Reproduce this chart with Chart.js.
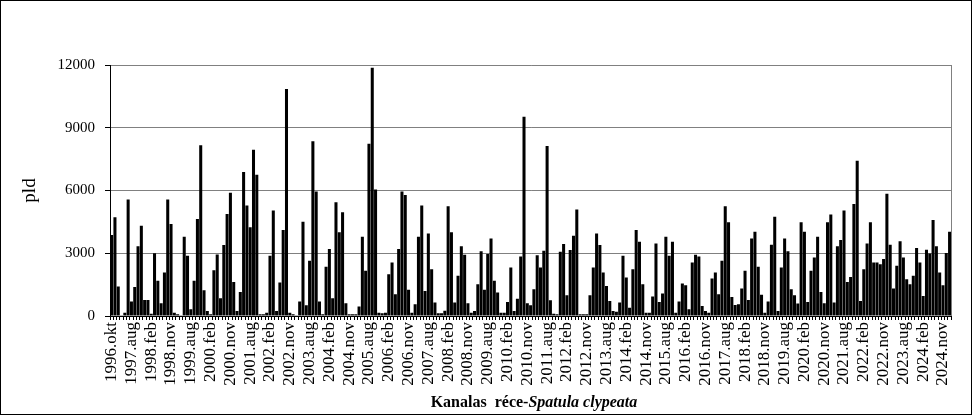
<!DOCTYPE html>
<html>
<head>
<meta charset="utf-8">
<script src="https://cdn.jsdelivr.net/npm/chart.js@4.4.1/dist/chart.umd.min.js"></script>
<style>
    body { margin: 0; background: #fff; }
    .chart-box { position: relative; width: 972px; height: 415px; }
    .chart-title {
        position: absolute; left: 110px; width: 848px; top: 393px;
        text-align: center; line-height: 18px;
        font: bold 16px "Liberation Serif", "Times New Roman", serif;
    }
</style>
</head>
<body>
<div class="chart-box">
    <canvas id="myChart" width="972" height="415"></canvas>
    <div class="chart-title">Kanalas&nbsp; réce-<i>Spatula clypeata</i></div>
</div>

<script>
    // havi számlálások: az első idény okt-márc, utána aug-ápr
    const firstMonths = ['1996.okt', '1996.nov', '1996.dec', '1997.jan', '1997.feb', '1997.mar'];
    const seasonMonths = ['aug', 'sep', 'okt', 'nov', 'dec', 'jan', 'feb', 'mar', 'apr'];
    const firstYear = 1997;
    const lastMonth = '2025.jan';

    // tengelyfeliratok (minden 6. kategória)
    const tickLabels = [
        '1996.okt', '1997.aug', '1998.feb', '1998.nov', '1999.aug', '2000.feb', '2000.nov',
        '2001.aug', '2002.feb', '2002.nov', '2003.aug', '2004.feb', '2004.nov', '2005.aug',
        '2006.feb', '2006.nov', '2007.aug', '2008.feb', '2008.nov', '2009.aug', '2010.feb',
        '2010.nov', '2011.aug', '2012.feb', '2012.nov', '2013.aug', '2014.feb', '2014.nov',
        '2015.aug', '2016.feb', '2016.nov', '2017.aug', '2018.feb', '2018.nov', '2019.aug',
        '2020.feb', '2020.nov', '2021.aug', '2022.feb', '2022.nov', '2023.aug', '2024.feb',
        '2024.nov'
    ];

    // egyedszám (pld)
    const pld = [
        3870, 4720, 1410, 30, 160, 5570,
        690, 1390, 3330, 4320, 770, 770, 110, 3000, 1680,
        610, 2080, 5570, 4400, 160, 80, 30, 3790, 2880,
        320, 1680, 4640, 8160, 1230, 240, 80, 2190, 2940,
        850, 3390, 4880, 5890, 1630, 240, 1150, 6880, 5280,
        4240, 7950, 6750, 80, 80, 150, 2880, 5040,
        240, 1600, 4110, 10850, 160, 80, 30, 690, 4510,
        510, 2640, 8350, 5950, 690, 80, 2350, 3200, 850,
        5440, 4000, 4960, 610, 80, 80, 80, 450, 3790,
        2160, 8240, 11870, 6050, 160, 130, 160, 2000, 2560,
        1040, 3200, 5950, 5790, 1250, 160, 560, 3790, 5280,
        1200, 3950, 2240, 640, 130, 130, 250, 5250, 4000,
        640, 1920, 3330, 2930, 610, 160, 240, 1520, 3090,
        1250, 2960, 3710, 1680, 1120, 160, 160, 670, 2320,
        240, 830, 2850, 9520, 610, 510, 1280, 2910,
        2320, 3120, 8130, 750, 110, 80, 3070, 3440, 990,
        3150, 3840, 5090, 80, 80, 80, 990, 2320, 3950,
        3390, 2080, 1440, 720, 240, 200, 640, 2880, 1840,
        400, 2240, 4110, 3550, 1520, 160, 160, 930, 3470,
        670, 1070, 3790, 2880, 3550, 160, 690, 1550, 1470,
        320, 2560, 2930, 2850, 480, 240, 160, 1790, 2080,
        1040, 2640, 5250, 4480, 910, 530, 560, 1310, 2160,
        770, 3710, 4030, 2350, 1010, 160, 690, 3410, 4750,
        240, 2320, 3710, 3090, 1280, 990, 600, 4480, 4030,
        670, 2160, 2800, 3790, 1150, 610, 4480, 4850,
        640, 3330, 3630, 5040, 1630, 1870, 5360, 7420, 720,
        2240, 3470, 4480, 2560, 2560, 2480, 2720, 5840, 3410,
        1310, 2400, 3570, 2800, 1760, 1520, 1920, 3250, 2560,
        960, 3170, 2990, 4590, 3330, 2080, 1470, 3010, 4030
    ];

    const serif = "'Liberation Serif', 'Times New Roman', serif";

    // kategóriák összeállítása
    let categories = firstMonths.slice();
    for (let y = firstYear; categories[categories.length - 1] !== lastMonth; y++) {
        for (let k = 0; k < seasonMonths.length; k++) {
            categories.push((k < 5 ? y : y + 1) + '.' + seasonMonths[k]);
            if (categories[categories.length - 1] === lastMonth) break;
        }
    }

    // keret + szürke jobb oldali határ
    const framePlugin = {
        id: 'frame',
        beforeDatasetsDraw(chart) {
            const { ctx, chartArea } = chart;
            ctx.save();
            ctx.strokeStyle = '#808080';
            ctx.lineWidth = 1;
            ctx.beginPath();
            ctx.moveTo(Math.round(chartArea.right) + 0.5, chartArea.top);
            ctx.lineTo(Math.round(chartArea.right) + 0.5, chartArea.bottom);
            ctx.stroke();
            ctx.restore();
        },
        afterDraw(chart) {
            const ctx = chart.ctx;
            ctx.save();
            ctx.strokeStyle = '#000';
            ctx.lineWidth = 1;
            ctx.strokeRect(0.5, 0.5, chart.width - 1, chart.height - 1);
            ctx.restore();
        }
    };

    const chartElement = document.getElementById('myChart');
    let myChart = new Chart(chartElement, {
        type: 'bar',
        data: {
            labels: categories,
            datasets: [{
                label: 'pld',
                data: pld,
                backgroundColor: '#000',
                barPercentage: 0.92,
                categoryPercentage: 1.0
            }]
        },
        options: {
            responsive: false,
            animation: false,
            layout: { padding: { left: 0, right: 14, top: 65, bottom: 0 } },
            plugins: {
                legend: { display: false },
                tooltip: { enabled: false }
            },
            scales: {
                x: {
                    afterFit: (s) => { s.height = 99; },
                    grid: { offset: true, drawOnChartArea: false, drawTicks: true, tickLength: 4, tickColor: '#000' },
                    border: { display: true, color: '#000' },
                    ticks: {
                        autoSkip: false, maxRotation: 90, minRotation: 90, padding: 2,
                        color: '#000', font: { family: serif, size: 17 },
                        callback: function (v, i) {
                            return tickLabels.includes(categories[i]) ? categories[i] : '';
                        }
                    }
                },
                y: {
                    min: 0, max: 12000,
                    afterFit: (s) => { s.width = 110; },
                    ticks: {
                        stepSize: 3000, padding: 10, color: '#000',
                        font: { family: serif, size: 15 },
                        callback: (v) => String(v)
                    },
                    grid: {
                        color: (c) => (c.tick && c.tick.value === 0 ? '#000' : '#808080'),
                        tickColor: '#000', tickLength: 5
                    },
                    border: { color: '#000' },
                    title: {
                        display: true, text: 'pld', color: '#000',
                        font: { family: serif, size: 19 },
                        padding: { top: 19, bottom: 0 }
                    }
                }
            }
        },
        plugins: [framePlugin]
    });
</script>
</body>
</html>
